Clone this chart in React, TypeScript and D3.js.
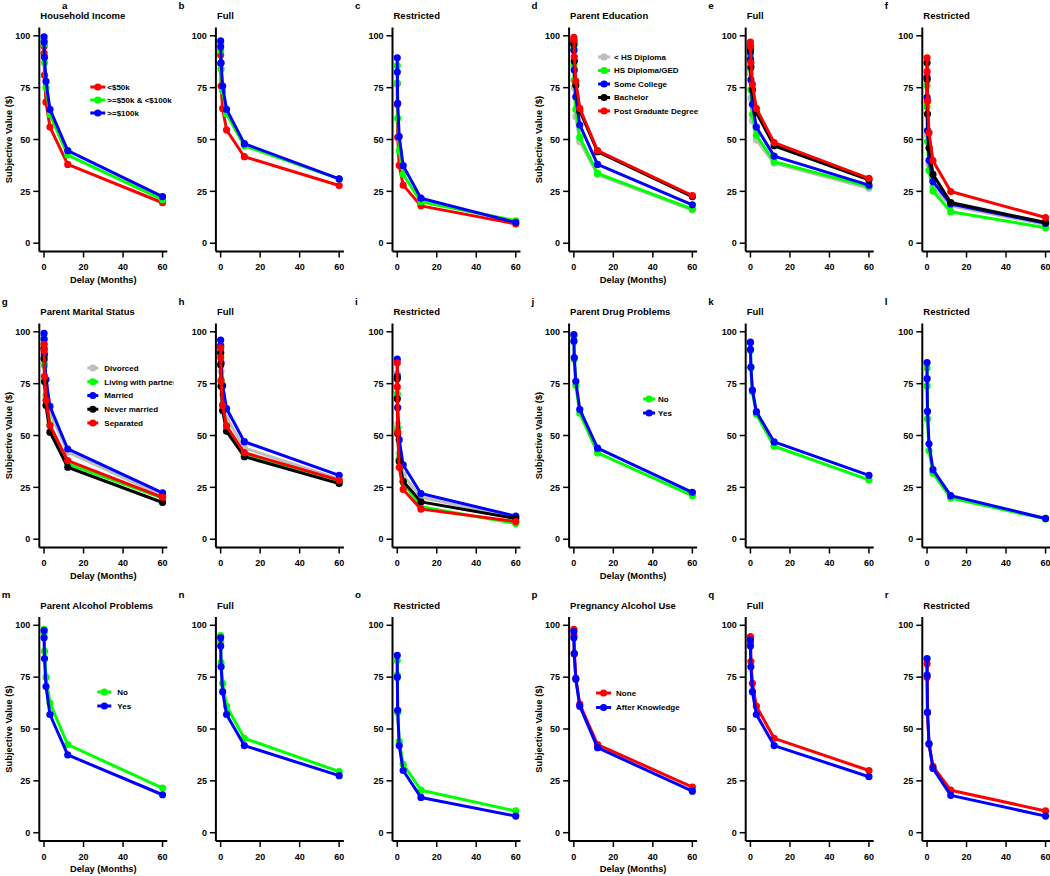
import React from "react";
import * as d3 from "d3";

// ---------- data ----------
// delays in months: 6 hours, 1 day, 1 week, 1 month, 3 months, 1 year, 5 years
const delays = [0.0082, 0.0329, 0.2301, 1, 3, 12, 60];
const xTicks = [0, 20, 40, 60];
const yTicks = [0, 25, 50, 75, 100];

const RED = "#ff0000";
const GREEN = "#00ff00";
const BLUE = "#0000ff";
const BLACK = "#000000";
const GRAY = "#bebebe";

// Household income
const incomeLabels = ["<$50k", ">=$50k & <$100k", ">=$100k"];
const incA_low = [95, 91.5, 81, 68, 56, 38, 19.5];
const incA_mid = [98, 96, 87, 75, 62, 42.5, 21];
const incA_high = [99.5, 97, 89.6, 78, 64.5, 44.6, 22.5];
const incB_low = [90.7, 86.7, 75.8, 65, 54.6, 41.7, 27.8];
const incB_mid = [96.3, 92.8, 84, 73.4, 62.3, 47, 31];
const incB_high = [97.6, 94.7, 87, 75.8, 64.5, 48, 31];
const incC_low = [77, 67, 51, 37.5, 28, 18, 9.3];
const incC_mid = [85.6, 77.2, 60.2, 44.5, 33.2, 20, 10.8];
const incC_high = [89.4, 82.5, 67.4, 51.4, 37.4, 21.7, 10];

// Parent education
const eduLabels = ["< HS Diploma", "HS Diploma/GED", "Some College", "Bachelor", "Post Graduate Degree"];
const eduD_lths = [93, 85, 75, 61, 49, 33, 16];
const eduD_hs = [94, 86, 78.6, 64.5, 51, 33.7, 16.4];
const eduD_some = [96, 93, 83.5, 70.6, 57, 38, 18.5];
const eduD_bach = [97.5, 95.8, 87.8, 76.2, 63.9, 44.1, 22.5];
const eduD_post = [99.2, 98.2, 89.9, 78.2, 65, 44.6, 23];
const eduE_lths = [88, 81.8, 70, 59, 49.7, 38.5, 26.5];
const eduE_hs = [90, 84, 74, 62, 52, 39.3, 27.3];
const eduE_some = [92, 88.6, 78.7, 67, 56, 42, 28];
const eduE_bach = [95, 93, 85, 74, 63, 47, 30.5];
const eduE_post = [97, 95, 87, 76.6, 65, 48.5, 31.3];
const eduF_lths = [78, 68, 52, 38, 27, 18, 9];
const eduF_hs = [76, 65.8, 49, 35, 25.2, 15.2, 7.5];
const eduF_some = [80, 70.3, 54.3, 40, 29.7, 18.9, 9.6];
const eduF_bach = [87, 79, 62.3, 46, 33.2, 19.6, 10];
const eduF_post = [89.4, 82.7, 68.5, 53.3, 39.8, 24.9, 12.4];

// Parent marital status
const marLabels = ["Divorced", "Living with partner", "Married", "Never married", "Separated"];
const marG_div = [95, 91, 86, 74, 61, 42, 21];
const marG_liv = [96.5, 94, 83.9, 69.4, 55.2, 36.3, 19.8];
const marG_mar = [99.2, 96.5, 89, 77, 64, 43.5, 22.3];
const marG_nev = [92, 87, 76, 64.5, 51.6, 34.7, 17.7];
const marG_sep = [94, 91, 78.5, 67, 54.8, 37.9, 20.2];
const marH_div = [92, 90, 81, 69.8, 58.6, 44, 28.9];
const marH_liv = [93, 89, 77, 65, 53.8, 41, 27.8];
const marH_mar = [96, 93.3, 85, 74, 63, 47, 30.8];
const marH_nev = [90, 84, 73.8, 62, 52, 39.8, 26.8];
const marH_sep = [92.3, 87.5, 76.2, 64.5, 54.6, 41.7, 28.4];
const marI_div = [79.8, 70, 55.6, 41.5, 31, 20.2, 10.5];
const marI_liv = [79, 70, 53.5, 38.7, 27.4, 15.6, 7.6];
const marI_mar = [86.8, 78.5, 63.4, 48, 35.8, 22, 11.1];
const marI_nev = [77.4, 67.7, 50.8, 37.6, 27.9, 18, 10];
const marI_sep = [85, 73.4, 51.6, 34.7, 24, 14.5, 8.5];

// Parent drug problems
const yesNoLabels = ["No", "Yes"];
const drugJ_no = [98, 95.2, 86.6, 74.2, 60.8, 41.6, 21];
const drugJ_yes = [98.7, 95.6, 87.6, 76.1, 62.6, 43.9, 22.6];
const drugK_no = [94.7, 91, 82.7, 71.1, 60.2, 44.8, 28.6];
const drugK_yes = [95, 91.5, 83, 71.9, 61.5, 46.9, 30.8];
const drugL_no = [82.6, 73.9, 58, 42.7, 31.8, 19.8, 9.8];
const drugL_yes = [85.2, 77.4, 61.6, 46, 33.5, 21, 10];

// Parent alcohol problems
const alcM_no = [98, 96, 87.5, 75, 62.5, 42.5, 21.5];
const alcM_yes = [97.5, 94, 84, 70.5, 57, 37.5, 18.3];
const alcN_no = [95, 92, 82, 72, 61, 45.5, 29.5];
const alcN_yes = [94, 90, 80, 68, 57, 42, 27.5];
const alcO_no = [83, 76, 58, 44, 33, 20.5, 10.5];
const alcO_yes = [85.5, 75, 59, 42, 30, 17, 8];

// Pregnancy alcohol use
const pregLabels = ["None", "After Knowledge"];
const pregP_none = [98, 95, 86, 74.5, 62, 42.5, 22];
const pregP_after = [97, 94, 86.5, 74, 61, 41, 20];
const pregQ_none = [94.5, 92, 82.5, 72, 61, 45.5, 30];
const pregQ_after = [93, 90, 80, 68, 57, 42, 27];
const pregR_none = [81.5, 75, 58, 42.5, 32, 20.5, 10.5];
const pregR_after = [84, 76, 58, 43, 31, 18, 8];

// ---------- panel definitions ----------
type Series = { name: string; color: string; values: number[] };
type Legend = { lx0: number; lx1: number; tx: number; y0: number; step: number; clip?: number };
type Panel = { letter: string; title: string; series: Series[]; legend?: Legend };

const mk = (labels: string[], colors: string[], vals: number[][]): Series[] =>
  labels.map((name, i) => ({ name, color: colors[i], values: vals[i] }));

const C3 = [RED, GREEN, BLUE];
const C5 = [GRAY, GREEN, BLUE, BLACK, RED];
const CGB = [GREEN, BLUE];
const CRB = [RED, BLUE];

const rows: Panel[][] = [
  [
    { letter: "a", title: "Household Income", series: mk(incomeLabels, C3, [incA_low, incA_mid, incA_high]),
      legend: { lx0: 51, lx1: 66, tx: 68, y0: 59.5, step: 13 } },
    { letter: "b", title: "Full", series: mk(incomeLabels, C3, [incB_low, incB_mid, incB_high]) },
    { letter: "c", title: "Restricted", series: mk(incomeLabels, C3, [incC_low, incC_mid, incC_high]) },
    { letter: "d", title: "Parent Education", series: mk(eduLabels, C5, [eduD_lths, eduD_hs, eduD_some, eduD_bach, eduD_post]),
      legend: { lx0: 29, lx1: 41, tx: 45, y0: 29.5, step: 13.5 } },
    { letter: "e", title: "Full", series: mk(eduLabels, C5, [eduE_lths, eduE_hs, eduE_some, eduE_bach, eduE_post]) },
    { letter: "f", title: "Restricted", series: mk(eduLabels, C5, [eduF_lths, eduF_hs, eduF_some, eduF_bach, eduF_post]) },
  ],
  [
    { letter: "g", title: "Parent Marital Status", series: mk(marLabels, C5, [marG_div, marG_liv, marG_mar, marG_nev, marG_sep]),
      legend: { lx0: 48, lx1: 59, tx: 65, y0: 44.5, step: 13.75, clip: 173.5 } },
    { letter: "h", title: "Full", series: mk(marLabels, C5, [marH_div, marH_liv, marH_mar, marH_nev, marH_sep]) },
    { letter: "i", title: "Restricted", series: mk(marLabels, C5, [marI_div, marI_liv, marI_mar, marI_nev, marI_sep]) },
    { letter: "j", title: "Parent Drug Problems", series: mk(yesNoLabels, CGB, [drugJ_no, drugJ_yes]),
      legend: { lx0: 74, lx1: 86, tx: 89, y0: 75.5, step: 14 } },
    { letter: "k", title: "Full", series: mk(yesNoLabels, CGB, [drugK_no, drugK_yes]) },
    { letter: "l", title: "Restricted", series: mk(yesNoLabels, CGB, [drugL_no, drugL_yes]) },
  ],
  [
    { letter: "m", title: "Parent Alcohol Problems", series: mk(yesNoLabels, CGB, [alcM_no, alcM_yes]),
      legend: { lx0: 58, lx1: 72, tx: 78, y0: 75, step: 14 } },
    { letter: "n", title: "Full", series: mk(yesNoLabels, CGB, [alcN_no, alcN_yes]) },
    { letter: "o", title: "Restricted", series: mk(yesNoLabels, CGB, [alcO_no, alcO_yes]) },
    { letter: "p", title: "Pregnancy Alcohol Use", series: mk(pregLabels, CRB, [pregP_none, pregP_after]),
      legend: { lx0: 27, lx1: 42, tx: 47, y0: 76, step: 14.5 } },
    { letter: "q", title: "Full", series: mk(pregLabels, CRB, [pregQ_none, pregQ_after]) },
    { letter: "r", title: "Restricted", series: mk(pregLabels, CRB, [pregR_none, pregR_after]) },
  ],
];

// ---------- layout ----------
const W = 1050;
const H = 876;
const colLeft = (c: number) => 39.3 + 176.6 * c;
const rowTop = [27.5, 323.5, 617];
const PW = 128;
const PH = 224;
const FONT = "'Liberation Sans', Arial, Helvetica, sans-serif";

const PanelView: React.FC<{ p: Panel; r: number; c: number }> = ({ p, r, c }) => {
  const L = colLeft(c);
  const T = rowTop[r];
  const B = T + PH;
  const x = d3.scaleLinear().domain([-2.4, 62.4]).range([L, L + PW]);
  const y = d3.scaleLinear().domain([-4, 104]).range([B, T]);
  const line = d3
    .line<[number, number]>()
    .x((d) => x(d[0]))
    .y((d) => y(d[1]));
  const firstCol = c === 0 || c === 3;
  const letterX = r === 0 && c === 0 ? 62 : L - 37.5;
  const clipId = `clip-${p.letter}`;
  return (
    <g>
      <text x={letterX} y={T - 19} fontSize={9.8} fontWeight="bold" fontFamily={FONT}>
        {p.letter}
      </text>
      <text x={L + 1} y={T - 8.5} fontSize={9.5} fontWeight="bold" fontFamily={FONT}>
        {p.title}
      </text>
      {/* axes */}
      <line x1={L} x2={L} y1={T} y2={B} stroke="#000" strokeWidth={2} />
      <line x1={L} x2={L + PW} y1={B} y2={B} stroke="#000" strokeWidth={2} />
      {yTicks.map((t) => (
        <g key={"y" + t}>
          <line x1={L - 6} x2={L} y1={y(t)} y2={y(t)} stroke="#000" strokeWidth={1.5} />
          <text x={L - 9} y={y(t)} dy="0.35em" textAnchor="end" fontSize={9} fontWeight="bold" fontFamily={FONT}>
            {t}
          </text>
        </g>
      ))}
      {xTicks.map((t) => (
        <g key={"x" + t}>
          <line x1={x(t)} x2={x(t)} y1={B} y2={B + 6} stroke="#000" strokeWidth={1.5} />
          <text x={x(t)} y={B + 18.5} textAnchor="middle" fontSize={9} fontWeight="bold" fontFamily={FONT}>
            {t}
          </text>
        </g>
      ))}
      {firstCol && (
        <>
          <text
            transform={`translate(${L - 27.5},${(T + B) / 2}) rotate(-90)`}
            textAnchor="middle"
            fontSize={9.3}
            fontWeight="bold"
            fontFamily={FONT}
          >
            Subjective Value ($)
          </text>
          <text x={L + PW / 2} y={B + 31} textAnchor="middle" fontSize={9.3} fontWeight="bold" fontFamily={FONT}>
            Delay (Months)
          </text>
        </>
      )}
      {/* series */}
      {p.series.map((s) => {
        const pts: [number, number][] = delays.map((d, i) => [d, s.values[i]]);
        return (
          <g key={s.name}>
            <path d={line(pts) || ""} fill="none" stroke={s.color} strokeWidth={3} strokeLinejoin="round" />
            {pts.map((pt, i) => (
              <circle key={i} cx={x(pt[0])} cy={y(pt[1])} r={3.6} fill={s.color} />
            ))}
          </g>
        );
      })}
      {/* legend */}
      {p.legend && (
        <g>
          {p.legend.clip && (
            <defs>
              <clipPath id={clipId}>
                <rect x={0} y={T} width={p.legend.clip} height={PH} />
              </clipPath>
            </defs>
          )}
          <g clipPath={p.legend.clip ? `url(#${clipId})` : undefined}>
            {p.series.map((s, i) => {
              const lg = p.legend as Legend;
              const yy = T + lg.y0 + i * lg.step;
              return (
                <g key={"lg" + s.name}>
                  <line x1={L + lg.lx0} x2={L + lg.lx1} y1={yy} y2={yy} stroke={s.color} strokeWidth={3} />
                  <circle cx={L + (lg.lx0 + lg.lx1) / 2} cy={yy} r={3.6} fill={s.color} />
                  <text x={L + lg.tx} y={yy} dy="0.35em" fontSize={8} fontWeight="bold" fontFamily={FONT}>
                    {s.name}
                  </text>
                </g>
              );
            })}
          </g>
        </g>
      )}
    </g>
  );
};

export default function App() {
  return (
    <svg
      width={W}
      height={H}
      viewBox={`0 0 ${W} ${H}`}
      style={{ position: "absolute", left: 0, top: 0, background: "#fff" }}
    >
      <rect x={0} y={0} width={W} height={H} fill="#fff" />
      {rows.map((row, r) => row.map((p, c) => <PanelView key={p.letter} p={p} r={r} c={c} />))}
    </svg>
  );
}
